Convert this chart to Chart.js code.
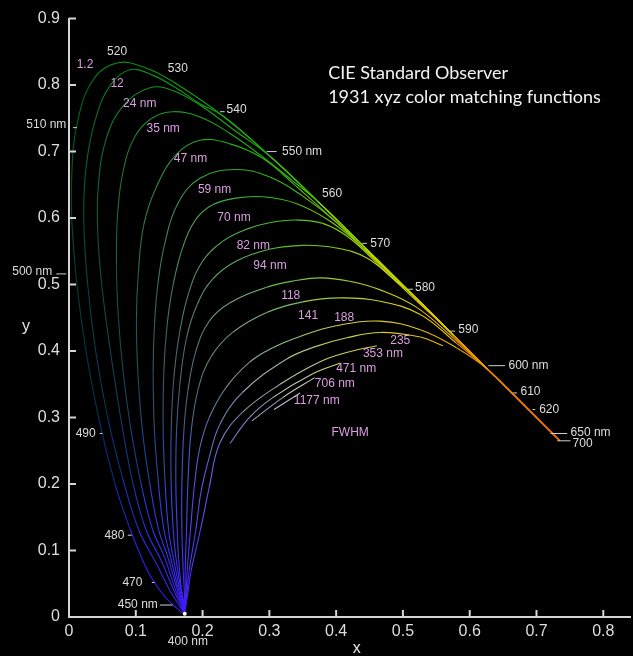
<!DOCTYPE html>
<html>
<head>
<meta charset="utf-8">
<script src="https://cdn.jsdelivr.net/npm/chart.js@4"></script>
<style>
  html, body { margin: 0; padding: 0; background: #000; }
  #wrap { width: 633px; height: 656px; }
</style>
</head>
<body>
<div id="wrap"><canvas id="cie" width="633" height="656"></canvas></div>
<script>
// ---- data (chromaticity x, y) ----
const xTickVals = [0, 0.1, 0.2, 0.3, 0.4, 0.5, 0.6, 0.7, 0.8]
const yTickVals = [0, 0.1, 0.2, 0.3, 0.4, 0.5, 0.6, 0.7, 0.8, 0.9]

const fwhmNames = ['1.2', '12', '24', '35', '47', '59', '70', '82', '94', '118', '141', '188', '235', '353', '471', '706', '1177']

// 1.2 nm curve = spectral locus, 400 .. 700 nm
const x_1_2 = [0.1733, 0.1714, 0.1644, 0.1566, 0.1440, 0.1241, 0.1096, 0.0913, 0.0687, 0.0454, 0.0235, 0.0082, 0.0039, 0.0139, 0.0389, 0.0743, 0.1142, 0.1547, 0.2296, 0.3016, 0.3731, 0.4441, 0.5125, 0.5752, 0.6270, 0.6658, 0.6915, 0.7079, 0.7260, 0.7347]
const y_1_2 = [0.0048, 0.0051, 0.0109, 0.0177, 0.0297, 0.0578, 0.0868, 0.1327, 0.2007, 0.2950, 0.4127, 0.5384, 0.6548, 0.7502, 0.8120, 0.8338, 0.8262, 0.8059, 0.7543, 0.6923, 0.6245, 0.5547, 0.4866, 0.4242, 0.3725, 0.3340, 0.3083, 0.2920, 0.2740, 0.2653]

const x_12 = [0.173, 0.166, 0.152, 0.131, 0.104, 0.080, 0.058, 0.040, 0.028, 0.022, 0.026, 0.040, 0.062, 0.091, 0.125, 0.160, 0.196, 0.2296, 0.3016, 0.3731, 0.4441, 0.5125, 0.5752, 0.6270, 0.6658, 0.6915, 0.7260, 0.7347]
const y_12 = [0.006, 0.016, 0.038, 0.080, 0.132, 0.210, 0.300, 0.400, 0.500, 0.600, 0.680, 0.750, 0.800, 0.823, 0.815, 0.796, 0.772, 0.7543, 0.6923, 0.6245, 0.5547, 0.4866, 0.4242, 0.3725, 0.3340, 0.3083, 0.2740, 0.2653]

const x_24 = [0.173, 0.167, 0.156, 0.138, 0.115, 0.096, 0.079, 0.062, 0.049, 0.043, 0.044, 0.056, 0.082, 0.121, 0.155, 0.196, 0.245, 0.3016, 0.3731, 0.4441, 0.5125, 0.5752, 0.6270, 0.6658, 0.6915, 0.7260, 0.7347]
const y_24 = [0.006, 0.018, 0.042, 0.085, 0.132, 0.200, 0.290, 0.400, 0.500, 0.580, 0.650, 0.720, 0.770, 0.796, 0.792, 0.770, 0.734, 0.6923, 0.6245, 0.5547, 0.4866, 0.4242, 0.3725, 0.3340, 0.3083, 0.2740, 0.2653]

const x_35 = [0.173, 0.168, 0.158, 0.143, 0.125, 0.108, 0.093, 0.081, 0.074, 0.071, 0.073, 0.082, 0.099, 0.124, 0.155, 0.196, 0.240, 0.290, 0.335, 0.3731, 0.4441, 0.5125, 0.5752, 0.6270, 0.6658, 0.6915, 0.7260, 0.7347]
const y_35 = [0.006, 0.020, 0.045, 0.090, 0.132, 0.200, 0.280, 0.370, 0.450, 0.530, 0.610, 0.675, 0.723, 0.750, 0.760, 0.752, 0.728, 0.692, 0.656, 0.6245, 0.5547, 0.4866, 0.4242, 0.3725, 0.3340, 0.3083, 0.2740, 0.2653]

const x_47 = [0.173, 0.169, 0.161, 0.148, 0.134, 0.121, 0.110, 0.103, 0.101, 0.104, 0.112, 0.130, 0.160, 0.196, 0.240, 0.290, 0.340, 0.390, 0.4441, 0.5125, 0.5752, 0.6270, 0.6658, 0.6915, 0.7260, 0.7347]
const y_47 = [0.006, 0.020, 0.045, 0.090, 0.132, 0.200, 0.280, 0.370, 0.450, 0.520, 0.590, 0.645, 0.695, 0.717, 0.712, 0.690, 0.648, 0.603, 0.5547, 0.4866, 0.4242, 0.3725, 0.3340, 0.3083, 0.2740, 0.2653]

const x_59 = [0.173, 0.170, 0.163, 0.152, 0.142, 0.134, 0.128, 0.126, 0.128, 0.133, 0.143, 0.162, 0.196, 0.250, 0.300, 0.350, 0.400, 0.450, 0.5125, 0.5752, 0.6270, 0.6658, 0.6915, 0.7260, 0.7347]
const y_59 = [0.006, 0.020, 0.045, 0.090, 0.132, 0.200, 0.280, 0.370, 0.440, 0.500, 0.560, 0.620, 0.660, 0.673, 0.662, 0.633, 0.594, 0.545, 0.4866, 0.4242, 0.3725, 0.3340, 0.3083, 0.2740, 0.2653]

const x_70 = [0.173, 0.171, 0.165, 0.156, 0.149, 0.144, 0.141, 0.142, 0.147, 0.156, 0.170, 0.190, 0.215, 0.250, 0.290, 0.340, 0.390, 0.440, 0.490, 0.5125, 0.5752, 0.6270, 0.6658, 0.6915, 0.7260, 0.7347]
const y_70 = [0.006, 0.020, 0.045, 0.090, 0.132, 0.200, 0.280, 0.370, 0.440, 0.500, 0.555, 0.598, 0.620, 0.630, 0.632, 0.622, 0.596, 0.556, 0.506, 0.4866, 0.4242, 0.3725, 0.3340, 0.3083, 0.2740, 0.2653]

const x_82 = [0.173, 0.172, 0.167, 0.160, 0.156, 0.153, 0.153, 0.157, 0.166, 0.180, 0.200, 0.230, 0.265, 0.300, 0.340, 0.380, 0.420, 0.470, 0.520, 0.5752, 0.6270, 0.6658, 0.6915, 0.7260, 0.7347]
const y_82 = [0.006, 0.020, 0.045, 0.090, 0.132, 0.200, 0.280, 0.360, 0.430, 0.490, 0.535, 0.565, 0.583, 0.593, 0.597, 0.592, 0.570, 0.523, 0.476, 0.4242, 0.3725, 0.3340, 0.3083, 0.2740, 0.2653]

const x_94 = [0.173, 0.172, 0.168, 0.164, 0.162, 0.160, 0.161, 0.166, 0.176, 0.192, 0.215, 0.250, 0.300, 0.350, 0.400, 0.446, 0.490, 0.5125, 0.5752, 0.6270, 0.6658, 0.6915, 0.7260, 0.7347]
const y_94 = [0.006, 0.020, 0.045, 0.090, 0.132, 0.200, 0.280, 0.350, 0.420, 0.470, 0.508, 0.535, 0.553, 0.559, 0.555, 0.540, 0.505, 0.4866, 0.4242, 0.3725, 0.3340, 0.3083, 0.2740, 0.2653]

const x_118 = [0.173, 0.173, 0.171, 0.169, 0.169, 0.172, 0.178, 0.190, 0.210, 0.240, 0.296, 0.340, 0.376, 0.420, 0.466, 0.520, 0.5752, 0.6270, 0.6658, 0.6915, 0.7260]
const y_118 = [0.006, 0.030, 0.070, 0.132, 0.200, 0.280, 0.340, 0.400, 0.445, 0.472, 0.496, 0.506, 0.510, 0.505, 0.492, 0.466, 0.420, 0.3725, 0.3340, 0.3083, 0.2740]

const x_141 = [0.173, 0.174, 0.174, 0.176, 0.178, 0.183, 0.194, 0.213, 0.245, 0.296, 0.350, 0.406, 0.466, 0.526, 0.580, 0.6270, 0.6658, 0.6915, 0.7260]
const y_141 = [0.006, 0.030, 0.070, 0.132, 0.200, 0.280, 0.345, 0.392, 0.428, 0.458, 0.474, 0.480, 0.475, 0.455, 0.412, 0.3725, 0.3340, 0.3083, 0.2740]

const x_188 = [0.173, 0.175, 0.177, 0.182, 0.188, 0.196, 0.210, 0.235, 0.270, 0.305, 0.346, 0.400, 0.466, 0.526, 0.580, 0.6270, 0.6658, 0.6915, 0.7260]
const y_188 = [0.006, 0.030, 0.070, 0.132, 0.200, 0.255, 0.300, 0.345, 0.383, 0.405, 0.422, 0.438, 0.445, 0.432, 0.405, 0.3725, 0.3340, 0.3083, 0.2740]

const x_235 = [0.173, 0.176, 0.180, 0.190, 0.198, 0.210, 0.226, 0.260, 0.326, 0.370, 0.416, 0.466, 0.526, 0.560]
const y_235 = [0.006, 0.030, 0.070, 0.132, 0.190, 0.240, 0.290, 0.338, 0.388, 0.407, 0.420, 0.428, 0.421, 0.408]

const x_353 = [0.173, 0.177, 0.183, 0.197, 0.210, 0.226, 0.260, 0.316, 0.376, 0.420, 0.461]
const y_353 = [0.006, 0.030, 0.070, 0.132, 0.195, 0.262, 0.308, 0.350, 0.384, 0.399, 0.408]

const x_471 = [0.241, 0.270, 0.305, 0.365, 0.406]
const y_471 = [0.261, 0.300, 0.330, 0.366, 0.382]

const x_706 = [0.274, 0.320, 0.368]
const y_706 = [0.295, 0.330, 0.360]

const x_1177 = [0.307, 0.346]
const y_1177 = [0.312, 0.337]

// annotation texts
const wlTexts = ['400 nm', '450 nm', '470', '480', '490', '500 nm', '510 nm', '520', '530', '540', '550 nm', '560', '570', '580', '590', '600 nm', '610', '620', '650 nm', '700']
const fwhmTexts = ['1.2', '12', '24 nm', '35 nm', '47 nm', '59 nm', '70 nm', '82 nm', '94 nm', '118', '141', '188', '235', '353 nm', '471 nm', '706 nm', '1177 nm']
const titleLines = ['CIE Standard Observer', '1931 xyz color matching functions']

// ---- layout of the annotations (data coordinates) ----
const wlAt = [[0.178, -0.037], [0.103, 0.018], [0.095, 0.052], [0.068, 0.123], [0.025, 0.276], [-0.055, 0.520], [-0.034, 0.741], [0.072, 0.850], [0.163, 0.825], [0.251, 0.763], [0.349, 0.700], [0.394, 0.636], [0.466, 0.562], [0.533, 0.495], [0.598, 0.432], [0.688, 0.378], [0.691, 0.339], [0.719, 0.312], [0.781, 0.277], [0.769, 0.261]]
const wlLeaders = [[0.136, 0.018, 0.155, 0.018], [0.124, 0.052, 0.128, 0.052], [0.088, 0.123, 0.094, 0.123], [0.046, 0.276, 0.050, 0.276], [-0.019, 0.516, -0.004, 0.516], [0.006, 0.736, 0.012, 0.736], [0.226, 0.760, 0.233, 0.760], [0.296, 0.700, 0.311, 0.700], [0.439, 0.562, 0.446, 0.562], [0.508, 0.493, 0.515, 0.493], [0.571, 0.430, 0.578, 0.430], [0.628, 0.378, 0.653, 0.378], [0.665, 0.337, 0.671, 0.337], [0.694, 0.312, 0.698, 0.312], [0.721, 0.276, 0.746, 0.276], [0.731, 0.265, 0.751, 0.265]]
const fwhmAt = [[0.024, 0.831], [0.072, 0.802], [0.106, 0.772], [0.141, 0.735], [0.182, 0.690], [0.218, 0.643], [0.247, 0.600], [0.276, 0.558], [0.301, 0.528], [0.332, 0.483], [0.358, 0.453], [0.412, 0.450], [0.496, 0.415], [0.470, 0.396], [0.430, 0.373], [0.398, 0.351], [0.371, 0.325]]

const curveX = [x_1_2, x_12, x_24, x_35, x_47, x_59, x_70, x_82, x_94, x_118, x_141, x_188, x_235, x_353, x_471, x_706, x_1177]
const curveY = [y_1_2, y_12, y_24, y_35, y_47, y_59, y_70, y_82, y_94, y_118, y_141, y_188, y_235, y_353, y_471, y_706, y_1177]

// ---- colour of a line piece from its chromaticity ----
const WX = 0.3333, WY = 0.3333
const angleOf = (x, y) => {
  let a = Math.atan2(y - WY, x - WX) * 180 / Math.PI
  if (a < -40) a += 360
  return a
}
const locusRef = x_1_2.map((x, i) => [angleOf(x, y_1_2[i]), Math.hypot(x - WX, y_1_2[i] - WY)])
  .sort((a, b) => a[0] - b[0])
const hueStops = [[-15, [215, 85, 0]], [8, [235, 135, 0]], [20, [235, 180, 0]], [40, [215, 215, 0]], [63, [170, 210, 0]],
  [82, [100, 200, 0]], [95, [40, 180, 10]], [112, [10, 155, 20]], [125, [0, 105, 30]], [148, [0, 62, 48]],
  [175, [0, 50, 72]], [200, [0, 45, 130]], [222, [30, 40, 240]], [250, [70, 20, 255]]]
function lerpTable(t, a) {
  if (a <= t[0][0]) return t[0][1]
  for (let i = 1; i < t.length; i++) {
    if (a <= t[i][0]) {
      const f = (a - t[i - 1][0]) / (t[i][0] - t[i - 1][0])
      const p = t[i - 1][1], q = t[i][1]
      return Array.isArray(p) ? p.map((v, k) => v + (q[k] - v) * f) : p + (q - p) * f
    }
  }
  return t[t.length - 1][1]
}
function colourAt(x, y) {
  const a = angleOf(x, y)
  const d = Math.hypot(x - WX, y - WY)
  const dl = lerpTable(locusRef, a)
  const s = Math.pow(Math.min(1, d / dl), 0.7)
  const h = lerpTable(hueStops, a)
  const c = h.map(v => Math.round(200 * (1 - s) + v * s))
  return `rgb(${c[0]},${c[1]},${c[2]})`
}

const datasets = curveX.map((xs, i) => ({
  label: fwhmNames[i] + ' nm',
  data: xs.map((x, j) => ({ x, y: curveY[i][j] })),
  borderColor: '#888',
  borderWidth: 1.1,
  pointRadius: 0,
  tension: 0.4,
  fill: false,
  segment: {
    borderColor: c => colourAt((c.p0.parsed.x + c.p1.parsed.x) / 2, (c.p0.parsed.y + c.p1.parsed.y) / 2)
  }
}))

// text, inner tick marks and leaders
const overlay = {
  id: 'overlay',
  afterDraw(chart) {
    const { ctx, scales: { x, y } } = chart
    const X = v => x.getPixelForValue(v)
    const Y = v => y.getPixelForValue(v)
    ctx.save()
    ctx.strokeStyle = '#d4d4d4'
    ctx.lineWidth = 2
    ctx.beginPath()
    xTickVals.slice(1).forEach(v => { ctx.moveTo(X(v), Y(0)); ctx.lineTo(X(v), Y(0) - 7) })
    yTickVals.slice(1).forEach(v => { ctx.moveTo(X(0), Y(v)); ctx.lineTo(X(0) + 7, Y(v)) })
    ctx.stroke()

    ctx.lineWidth = 1
    ctx.strokeStyle = '#cfcfcf'
    ctx.beginPath()
    wlLeaders.forEach(([a, b, c, d]) => { ctx.moveTo(X(a), Y(b)); ctx.lineTo(X(c), Y(d)) })
    ctx.stroke()

    ctx.fillStyle = '#ffffff'
    ctx.beginPath()
    ctx.arc(X(x_1_2[0]), Y(y_1_2[0]), 2, 0, Math.PI * 2)
    ctx.fill()

    ctx.textAlign = 'center'
    ctx.textBaseline = 'middle'
    ctx.font = '12px "Liberation Sans", Arial, sans-serif'
    ctx.fillStyle = '#dddddd'
    wlTexts.forEach((t, i) => ctx.fillText(t, X(wlAt[i][0]), Y(wlAt[i][1])))

    ctx.fillStyle = '#dc9ee2'
    fwhmTexts.forEach((t, i) => ctx.fillText(t, X(fwhmAt[i][0]), Y(fwhmAt[i][1])))
    ctx.fillText('FWHM', X(0.421), Y(0.277))

    ctx.fillStyle = '#e6e6e6'
    ctx.font = '16px "Liberation Sans", Arial, sans-serif'
    ctx.fillText('y', X(0) - 43, Y(0.437))
    ctx.fillText('x', X(0.431), Y(0) + 32)

    ctx.textAlign = 'left'
    ctx.fillStyle = '#f4f4f4'
    ctx.font = '18px Lato, "Open Sans", sans-serif'
    ctx.fillText(titleLines[0], X(0.388), Y(0.818))
    ctx.fillText(titleLines[1], X(0.388), Y(0.782))
    ctx.restore()
  }
}

const tickFont = { size: 16, family: '"Liberation Sans", Arial, sans-serif' }
const fmt = v => (v === 0 ? '0' : v.toFixed(1))

new Chart(document.getElementById('cie'), {
  type: 'line',
  data: { datasets },
  options: {
    responsive: false,
    animation: false,
    layout: { padding: { top: 17, right: 3, left: 0, bottom: 0 } },
    plugins: { legend: { display: false }, tooltip: { enabled: false } },
    scales: {
      x: {
        type: 'linear', min: 0, max: 0.84,
        afterBuildTicks: s => { s.ticks = xTickVals.map(v => ({ value: v })) },
        afterFit: s => { s.height = 39 },
        grid: { display: false, drawTicks: false },
        border: { display: true, color: '#d4d4d4', width: 2 },
        ticks: { color: '#dedede', font: tickFont, padding: 5, maxRotation: 0, autoSkip: false, callback: fmt }
      },
      y: {
        type: 'linear', min: 0, max: 0.9,
        afterBuildTicks: s => { s.ticks = yTickVals.map(v => ({ value: v })) },
        afterFit: s => { s.width = 69 },
        grid: { display: false, drawTicks: false },
        border: { display: true, color: '#d4d4d4', width: 2 },
        ticks: { color: '#dedede', font: tickFont, padding: 9, autoSkip: false, callback: fmt }
      }
    }
  },
  plugins: [overlay]
})
</script>
</body>
</html>
